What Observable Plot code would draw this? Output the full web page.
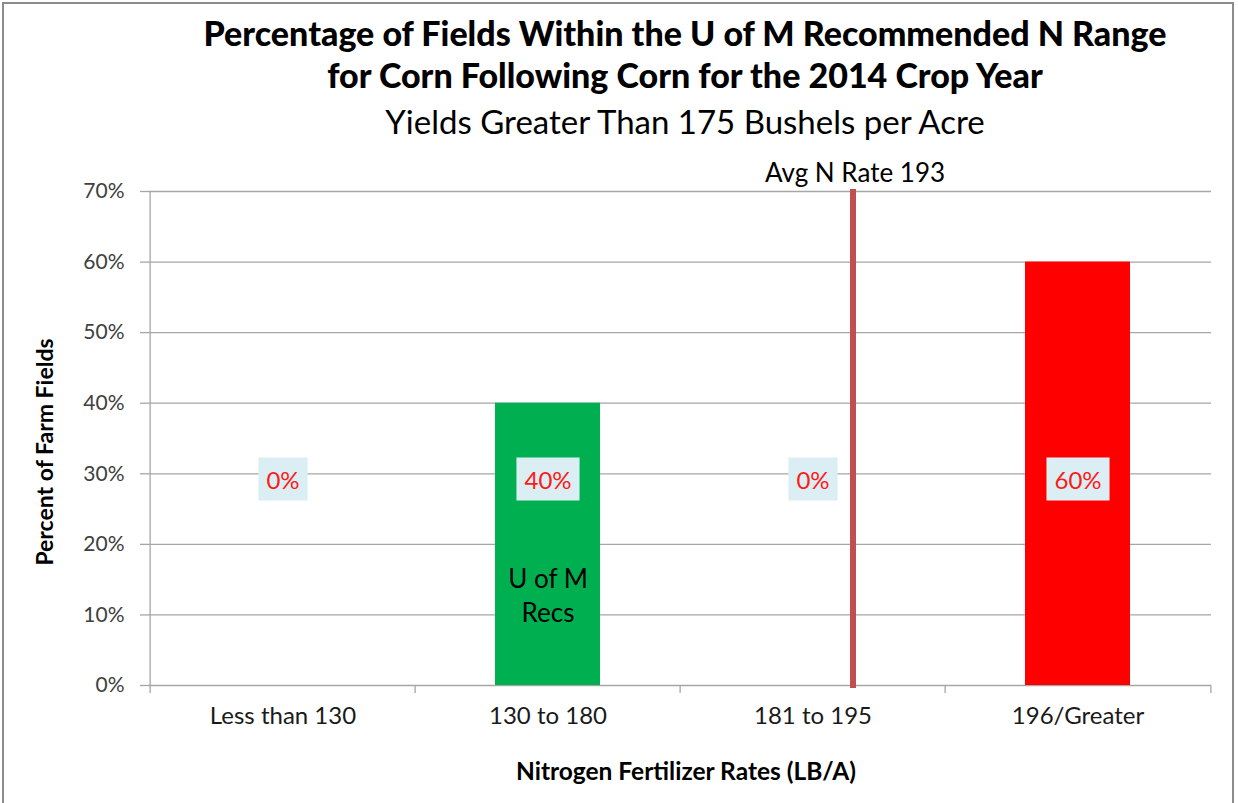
<!DOCTYPE html>
<html><head><meta charset="utf-8">
<script src="https://cdn.jsdelivr.net/npm/d3@7"></script>
<script src="https://cdn.jsdelivr.net/npm/@observablehq/plot@0.6"></script>
<style>
body{margin:0;background:#fff;}
#wrap{position:relative;width:1238px;height:803px;overflow:hidden;font-family:Lato, sans-serif;background:#fff;}
#border{position:absolute;left:2px;top:2px;width:1232px;height:840px;border:2px solid #8c8c8c;box-sizing:border-box;}
.t{position:absolute;left:685px;transform:translateX(-50%);white-space:nowrap;color:#000;}
#t1{top:10px;font-size:34px;line-height:46px;font-weight:900;}
#t2{top:52px;font-size:34px;line-height:46px;font-weight:900;}
#t3{top:100px;font-size:33px;line-height:42px;}
#ytitle{position:absolute;left:44px;top:452px;transform:translate(-50%,-50%) rotate(-90deg);white-space:nowrap;font-size:23px;font-weight:bold;color:#000;}
#chart{position:absolute;left:0;top:150px;}
</style></head>
<body>
<div id="wrap">
  <div id="border"></div>
  <div class="t" id="t1"></div>
  <div class="t" id="t2"></div>
  <div class="t" id="t3"></div>
  <div id="ytitle"></div>
  <div id="chart"></div>
</div>
<script>
// ---- data ----
const titleLines = ["Percentage of Fields Within the U of M Recommended N Range", "for Corn Following Corn for the 2014 Crop Year"];
const subtitle = "Yields Greater Than 175 Bushels per Acre";
const categories = ["Less than 130", "130 to 180", "181 to 195", "196/Greater"];
const percents = [0, 0.40, 0, 0.60];
const barColors = ["#00b050", "#00b050", "#00b050", "#ff0000"];
const yTicks = [0, 0.1, 0.2, 0.3, 0.4, 0.5, 0.6, 0.7];
const avgRateLabel = "Avg N Rate 193";
const avgRateCategory = "181 to 195";
const noteText = "U of M\nRecs";
const noteCategory = "130 to 180";
const xTitle = "Nitrogen Fertilizer Rates (LB/A)";
const yTitle = "Percent of Farm Fields";

document.getElementById("t1").textContent = titleLines[0];
document.getElementById("t2").textContent = titleLines[1];
document.getElementById("t3").textContent = subtitle;
document.getElementById("ytitle").textContent = yTitle;

const data = categories.map((c, i) => ({category: c, value: percents[i], color: barColors[i]}));
const pct = d3.format(".0%");

const W = 1238, H = 653, mT = 41, mB = 118, mL = 148, mR = 27;
const plotW = W - mL - mR, plotH = H - mT - mB, step = plotW / categories.length;
const grid = "#a6a6a6";
const labelRed = "#ff1a1a";

const chart = Plot.plot({
  width: W, height: H, marginTop: mT, marginBottom: mB, marginLeft: mL, marginRight: mR,
  style: {fontFamily: "Lato, sans-serif", background: "transparent"},
  x: {type: "band", domain: categories, padding: 0, axis: null},
  y: {domain: [0, 0.7], axis: null},
  color: {type: "identity"},
  marks: [
    Plot.ruleY(yTicks, {y: d => d, stroke: grid, strokeWidth: 1.3}),
    Plot.ruleY(yTicks, {y: d => d, stroke: grid, strokeWidth: 1.3, insetRight: plotW, insetLeft: -8}),
    Plot.ruleX([categories[0]], {x: d => d, dx: -step / 2, stroke: grid, strokeWidth: 1.3}),
    Plot.ruleX(categories, {x: d => d, dx: -step / 2, stroke: grid, strokeWidth: 1.3, insetTop: plotH, insetBottom: -8}),
    Plot.ruleX([categories[categories.length - 1]], {x: d => d, dx: step / 2, stroke: grid, strokeWidth: 1.3, insetTop: plotH, insetBottom: -8}),
    Plot.barY(data, {x: "category", y: "value", fill: "color", insetLeft: 80, insetRight: 80}),
    Plot.ruleX([avgRateCategory], {x: d => d, dx: 40, stroke: "#c0504d", strokeWidth: 6, insetBottom: -3, insetTop: -2}),
    Plot.text([avgRateLabel], {x: () => avgRateCategory, frameAnchor: "top", dy: -28, dx: 42, fontSize: 26, fill: "#000"}),
    Plot.text([noteText], {x: () => noteCategory, frameAnchor: "bottom", dy: -64, fontSize: 26, lineHeight: 1.27, fill: "#000"}),
    Plot.text(data, {x: "category", text: d => pct(d.value), frameAnchor: "bottom", dy: -197, fill: labelRed, fontSize: 24}),
    Plot.text(yTicks, {y: d => d, text: d => pct(d), frameAnchor: "left", dx: -24, textAnchor: "end", fontSize: 21, fill: "#404040"}),
    Plot.text(categories, {x: d => d, text: d => d, frameAnchor: "bottom", dy: 38, fontSize: 24, fill: "#1a1a1a"}),
    Plot.text([xTitle], {frameAnchor: "bottom", dy: 94, dx: 6, fontWeight: "bold", fontSize: 24.5, fill: "#000"})
  ]
});
document.getElementById("chart").appendChild(chart);

// light blue boxes behind the data labels
chart.querySelectorAll("text").forEach(t => {
  const g = t.parentNode;
  if (!g || g.getAttribute("fill") !== labelRed) return;
  const b = t.getBBox();
  const r = document.createElementNS("http://www.w3.org/2000/svg", "rect");
  r.setAttribute("x", b.x - 8);
  r.setAttribute("y", b.y - 7);
  r.setAttribute("width", b.width + 16);
  r.setAttribute("height", b.height + 14);
  r.setAttribute("fill", "#dbeef4");
  const tr = t.getAttribute("transform");
  if (tr) r.setAttribute("transform", tr);
  g.insertBefore(r, t);
});
</script>
</body></html>
